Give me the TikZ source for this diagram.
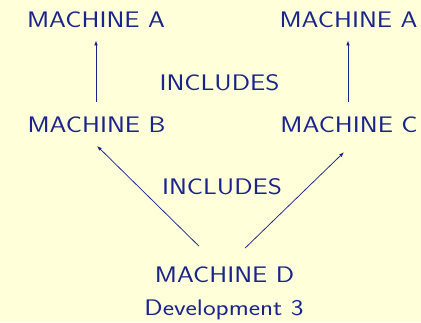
\documentclass[tikz,border=0pt]{standalone}
\usepackage{graphicx}
\usetikzlibrary{arrows.meta,calc}
\definecolor{navy}{RGB}{25,35,140}
\definecolor{bgyellow}{RGB}{255,255,218}
\newcommand{\wtxt}[1]{\scalebox{1.2}[1]{#1}}
\begin{document}
\begin{tikzpicture}[x=1pt,y=1pt,
  lbl/.style={anchor=base,inner sep=0pt,text=navy,font=\sffamily\fontsize{22.5}{27}\selectfont},
  arr/.style={draw=navy,line width=0.75pt,-{Latex[length=5pt,width=3.6pt]}}]
\fill[bgyellow] (0,0) rectangle (421,-322);
\useasboundingbox (0,0) rectangle (421,-322);
\node[lbl] (a1) at (96,-27) {\wtxt{MACHINE A}};
\node[lbl] (a2) at (348.5,-27) {\wtxt{MACHINE A}};
\node[lbl] (inc1) at (219.5,-90.5) {\wtxt{INCLUDES}};
\node[lbl] (b) at (96.5,-132.5) {\wtxt{MACHINE B}};
\node[lbl] (c) at (349,-132.5) {\wtxt{MACHINE C}};
\node[lbl] (inc2) at (222,-194) {\wtxt{INCLUDES}};
\node[lbl] (d) at (224.5,-282) {\wtxt{MACHINE D}};
\node[lbl] (dev) at (224,-315) {\wtxt{Development 3}};
\draw[arr] ([shift={(-0.5,15)}]b.north) -- ([yshift=-13pt]a1.south);
\draw[arr] ([shift={(-1,15)}]c.north) -- ([shift={(-0.5,-13)}]a2.south);
\draw[arr] ([shift={(-25.5,20)}]d.north) -- ([shift={(0.5,-13)}]b.south);
\draw[arr] ([shift={(20.5,18)}]d.north) -- ([shift={(-5,-19.3)}]c.south);
\end{tikzpicture}
\end{document}
